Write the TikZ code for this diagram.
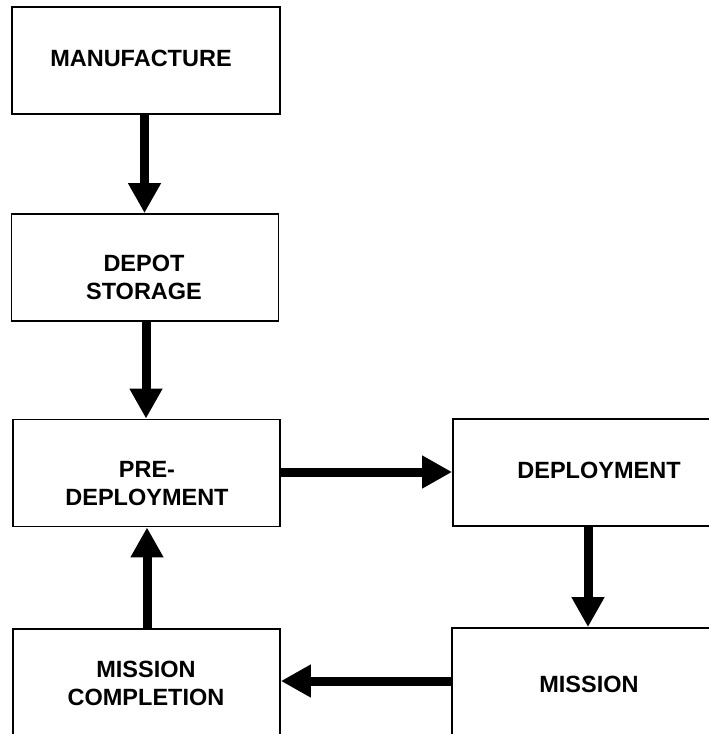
\documentclass[tikz,border=0pt]{standalone}
\usepackage{fontspec}
\setmainfont{Liberation Sans}
\usetikzlibrary{arrows.meta,calc}
\begin{document}
\begin{tikzpicture}[x=1pt,y=-1pt,
  box/.style={draw=black,line width=1.8pt,fill=white,rectangle,minimum height=107pt,inner sep=0pt,anchor=center},
  lbl/.style={font=\fontsize{23.5}{28}\selectfont\bfseries,align=center,inner sep=0pt,anchor=center},
  flow/.style={line width=9pt,-{Triangle[width=31pt,length=30pt]}}]
\useasboundingbox (0,0) rectangle (709,734);
\clip (0,0) rectangle (709,734);
\fill[white] (0,0) rectangle (709,734);
\node[box,minimum width=268pt] (man) at (146,60.5) {};
\node[box,minimum width=267pt] (depot) at (145,267.5) {};
\node[box,minimum width=267pt] (pre) at (146.5,473) {};
\node[box,minimum width=270pt] (dep) at (588,472.5) {};
\node[box,minimum width=271pt] (mis) at (587.5,681.5) {};
\node[box,minimum width=267pt] (mc) at (146.5,682.5) {};
\node[lbl] (tman) at (141,58) {MANUFACTURE};
\node[lbl] (tdepot) at (144,277) {DEPOT\\STORAGE};
\node[lbl] (tpre) at (147,483.5) {PRE-\\DEPLOYMENT};
\node[lbl] (tdep) at (599,470.5) {DEPLOYMENT};
\node[lbl] (tmis) at (589,684.5) {MISSION};
\node[lbl] (tmc) at (146,683.5) {MISSION\\COMPLETION};
\draw[flow] ($(man.south)+(-1.5,0)$) -- ($(depot.north)+(-0.5,0)$);
\draw[flow] ($(depot.south)+(1,0)$) -- ($(pre.north)+(-0.5,0)$);
\draw[flow] ($(mc.north)+(0.5,0)$) -- ($(pre.south)+(0.5,0)$);
\draw[flow] ($(pre.east)+(0,-1)$) -- ($(dep.west)+(0,-0.5)$);
\draw[flow] (dep.south) -- ($(mis.north)+(0.5,0)$);
\draw[flow] ($(mis.west)+(0,-0.5)$) -- ($(mc.east)+(0,-1.5)$);
\end{tikzpicture}
\end{document}
